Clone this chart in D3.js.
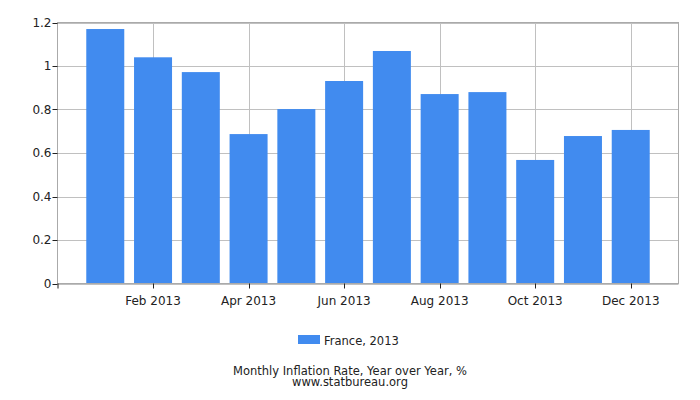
<!DOCTYPE html>
<html lang="en">
<head>
<meta charset="UTF-8">
<title>France inflation 2013</title>
<script src="https://d3js.org/d3.v7.min.js"></script>
<style>
  body { margin: 0; background: #fff; }
  text { font-family: "DejaVu Sans", sans-serif; fill: #222; }
</style>
</head>
<body>
<script>
var months = ["Jan 2013", "Feb 2013", "Mar 2013", "Apr 2013", "May 2013", "Jun 2013",
              "Jul 2013", "Aug 2013", "Sep 2013", "Oct 2013", "Nov 2013", "Dec 2013"];
var values = [1.17, 1.04, 0.972, 0.687, 0.802, 0.931, 1.069, 0.871, 0.88, 0.568, 0.678, 0.706];
var yTicks = [0, 0.2, 0.4, 0.6, 0.8, 1, 1.2];
var xTickIdx = [1, 3, 5, 7, 9, 11];

var svg = d3.select("body").append("svg")
    .attr("width", 700)
    .attr("height", 400);

var pLeft = 57.5, pRight = 678.5, pTop = 22.5, pBottom = 283.5;

var x = d3.scaleLinear().domain([0, 13]).range([pLeft, pRight]);
var y = d3.scaleLinear().domain([0, 1.2]).range([pBottom, pTop]);

// grid
svg.selectAll(".hg").data(yTicks).enter().append("line")
    .attr("x1", pLeft).attr("x2", pRight)
    .attr("y1", function(d) { return Math.round(y(d)) + 0.5; })
    .attr("y2", function(d) { return Math.round(y(d)) + 0.5; })
    .attr("stroke", "#c0c0c0");
svg.selectAll(".vg").data(xTickIdx).enter().append("line")
    .attr("y1", pTop).attr("y2", pBottom)
    .attr("x1", function(d) { return Math.round(x(d + 1)) + 0.5; })
    .attr("x2", function(d) { return Math.round(x(d + 1)) + 0.5; })
    .attr("stroke", "#c0c0c0");

// bars
var bw = 38;
svg.selectAll(".bar").data(values).enter().append("rect")
    .attr("x", function(d, i) { return x(i + 1) - bw / 2; })
    .attr("y", function(d) { return y(d); })
    .attr("width", bw)
    .attr("height", function(d) { return y(0) - y(d); })
    .attr("fill", "#418bef");

// frame
svg.append("rect")
    .attr("x", pLeft).attr("y", pTop)
    .attr("width", pRight - pLeft).attr("height", pBottom - pTop)
    .attr("fill", "none").attr("stroke", "#aaa");

// y axis ticks + labels
svg.selectAll(".yt").data(yTicks).enter().append("line")
    .attr("x1", pLeft - 5).attr("x2", pLeft)
    .attr("y1", function(d) { return Math.round(y(d)) + 0.5; })
    .attr("y2", function(d) { return Math.round(y(d)) + 0.5; })
    .attr("stroke", "#222");
svg.selectAll(".yl").data(yTicks).enter().append("text")
    .attr("x", pLeft - 6)
    .attr("y", function(d) { return y(d); })
    .attr("dy", "0.35em")
    .attr("text-anchor", "end")
    .attr("font-size", 12)
    .text(function(d) { return d; });

// x axis ticks + labels
svg.append("line")
    .attr("x1", pLeft + 0.5).attr("x2", pLeft + 0.5)
    .attr("y1", pBottom).attr("y2", pBottom + 5)
    .attr("stroke", "#222");
svg.selectAll(".xt").data(xTickIdx).enter().append("line")
    .attr("x1", function(d) { return Math.round(x(d + 1)) + 0.5; })
    .attr("x2", function(d) { return Math.round(x(d + 1)) + 0.5; })
    .attr("y1", pBottom).attr("y2", pBottom + 5)
    .attr("stroke", "#222");
svg.selectAll(".xl").data(xTickIdx).enter().append("text")
    .attr("x", function(d) { return x(d + 1); })
    .attr("y", 305)
    .attr("text-anchor", "middle")
    .attr("font-size", 12)
    .text(function(d) { return months[d]; });

// legend
svg.append("rect")
    .attr("x", 298).attr("y", 335)
    .attr("width", 22).attr("height", 9)
    .attr("fill", "#418bef");
svg.append("text")
    .attr("x", 324).attr("y", 345)
    .attr("font-size", 11.5)
    .text("France, 2013");

// caption
svg.append("text")
    .attr("x", 350).attr("y", 375)
    .attr("text-anchor", "middle")
    .attr("font-size", 11.5)
    .text("Monthly Inflation Rate, Year over Year, %");
svg.append("text")
    .attr("x", 350).attr("y", 385.5)
    .attr("text-anchor", "middle")
    .attr("font-size", 11.5)
    .text("www.statbureau.org");
</script>
</body>
</html>
